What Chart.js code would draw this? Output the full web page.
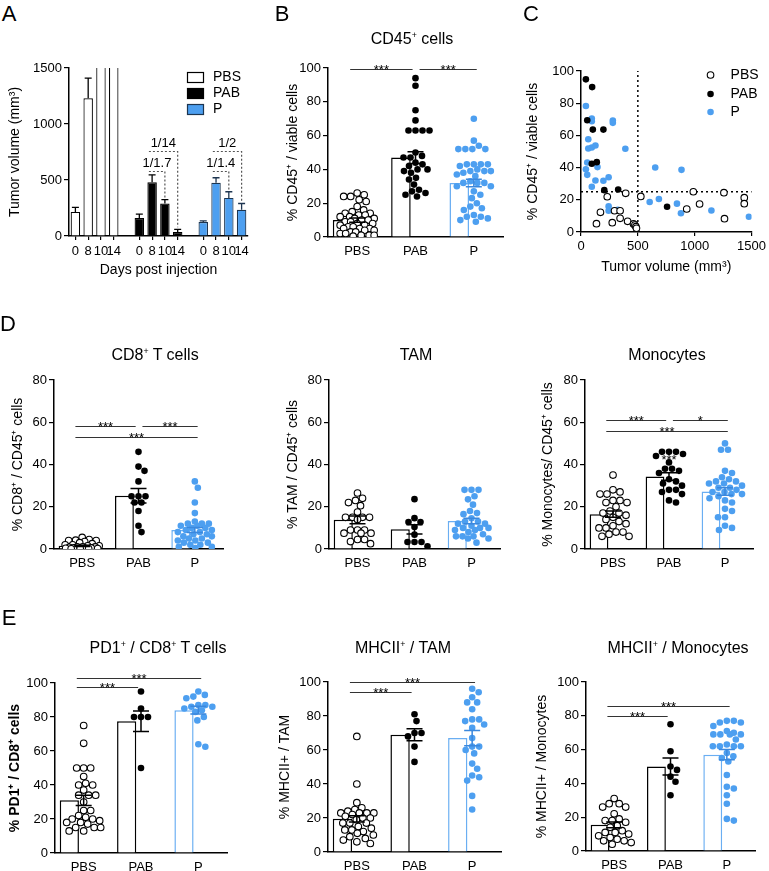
<!DOCTYPE html>
<html><head><meta charset="utf-8">
<script src="https://cdn.jsdelivr.net/npm/chart.js@4.4.0/dist/chart.umd.min.js"></script>
<style>
body{margin:0;background:#fff;}
#wrap{position:relative;width:769px;height:871px;overflow:hidden;background:#fff;font-family:'Liberation Sans',Arial,Helvetica,sans-serif;}
canvas{position:absolute;}
.txt{position:absolute;color:#000;white-space:nowrap;line-height:1;transform:translate(-50%,-50%);}
.txt sup{font-size:0.55em;vertical-align:0.7em;line-height:0;}
</style></head><body><div id="wrap"></div>
<script>
// ---------------- DATA ----------------
const groups = ['PBS', 'PAB', 'P'];

// Panel A: tumor volume (mean + SEM) per day
const aDays = ['0', '8', '10', '14'];
const aPbsMean = [215, 1230, 2100, 2400];
const aPbsSem  = [40, 180, 0, 0];
const aPabMean = [160, 480, 290, 35];
const aPabSem  = [35, 65, 35, 25];
const aPMean   = [125, 475, 340, 235];
const aPSem    = [10, 45, 55, 55];
const aFold = [
  {grp: 1, from: 1, to: 2, level: 580, label: '1/1.7'},
  {grp: 1, from: 1, to: 3, level: 760, label: '1/14'},
  {grp: 2, from: 1, to: 2, level: 580, label: '1/1.4'},
  {grp: 2, from: 1, to: 3, level: 760, label: '1/2'}
];

// Panel B: % CD45+ / viable cells
const bPbs = [26,25,24,24,22,21,18,16,15,14,14,13,13,12,12,11,11,10,10,9,9,8,8,7,7,6,6,5,5,5,4,4,3,3,2,2,1,1,1,0.5];
const bPab = [94,89.5,75,69,63,63,63,63,50,48,47,47,44,43,42,40,40,39,38,35,34,31,28,27,26,25,24];
const bP   = [70,57,54,52,52,52,52,43,43,43,43,42,40,39,39,39,38,37,36,33,32,32,32,30,30,27,25,23,20,18,17,16,13,12,12,11,10,9];
const bMean = [10, 47, 32];
const bSem  = [1.2, 3.5, 2.2];
const bSig  = [{a:0,b:1,y:99.5,t:'***'},{a:1,b:2,y:99.5,t:'***'}];

// Panel C: tumor volume vs % CD45+
const cPbsX = [231,393,526,988,1257,1436,1436,1043,930,1262,171,295,344,344,136,275,410,462,474,483,488];
const cPbsY = [21.9,24,22.1,25,24.4,21.3,17.6,17.4,14.3,8.3,12.2,13.2,13.2,8.5,5.2,5.8,6.6,5,4.3,3.3,2.3];
const cPabX = [43,98,55,104,197,95,139,205,327,757];
const cPabY = [94.8,90,69.4,63.6,63.6,42.4,43.4,26,26.4,15.7];
const cPX = [43,95,95,280,280,64,64,95,127,390,55,43,55,145,653,884,95,127,197,243,604,685,844,879,1147,1477,243,243,324];
const cPY = [78.3,70.5,68.8,69.2,67.8,57.6,51.9,52.5,53.7,51.7,43.2,39,35.5,40.3,40.1,38.6,28.1,32,31.8,34,18.6,20.5,17.6,11.6,13.4,9.5,15.9,13.2,13.8];
const cCutX = 500, cCutY = 25;

// Panel D1: CD8+ T cells
const d1Pbs = [5.5,4.5,4.2,4,4,3.5,3,2.5,2,2,1.5,1.5,1,1,1,0.8,0.5,0.5,0.3,0.3,0.2,0.2,0.1,0.1];
const d1Pab = [46,39,37,32,25,25,25,22,22,18,11,8];
const d1P   = [32,29,22,17,13,12,12,12,11,11,10,10,9,9,8,8,7,7,6,6,5,5,4,4,3,3,2,2,1,1,0.5];
const d1Mean = [1.5, 25.2, 9];
const d1Sem  = [0.3, 3.4, 1.2];
const d1Sig  = [{a:0,b:1,y:58.2,t:'***'},{a:1,b:2,y:58.2,t:'***'},{a:0,b:2,y:53,t:'***'}];

// Panel D2: TAM
const d2Pbs = [26.5,24,23,22,20.5,17.5,15,15,15,15,14,9,9,9,7.5,7.5,7.5,4.5,4.5,3.5,2.5];
const d2Pab = [23.6,14.6,12.8,12.8,10.4,6.8,3.3,3.3,3.3,1.3];
const d2P   = [28,28,28,25,23.5,21,18,17,16.5,14.5,13,13,12,12,11,10,10,10,9,9,8,7,6,6,6,5,5,3];
const d2Mean = [13.8, 9.3, 13.3];
const d2Sem  = [1.8, 2.2, 1.3];
const d2Sig  = [];

// Panel D3: Monocytes
const d3Pbs = [35,28,27,26,26,23,23,22,22,20,18,17,17,16,15,14,13,12,11,10,10,8,8,7,6,6];
const d3Pab = [46,46,46,45,44,41,38,38,37,36,33,32,31,30,28,28,27,26,23,22];
const d3P   = [50,47,47,37,36,34,33,32,32,31,31,30,29,29,28,27,27,26,26,25,24,23,22,19,18,15,15,11,10,9];
const d3Mean = [16.5, 34.3, 27.2];
const d3Sem  = [1.5, 1.8, 1.8];
const d3Sig  = [{a:0,b:1,y:61,t:'***'},{a:1,b:2,y:61,t:'*'},{a:0,b:2,y:55.8,t:'***'}];
const d3Extra = [{x:1, y:43.6, t:'***'}];

// Panel E1: PD1+ / CD8+
const e1Pbs = [75,64.5,50,50,50,45,41,40,40,37,34,34,34,30,25,25,22,21,20,20,19,18,18,17,15,15,15,13,13];
const e1Pab = [95,85,80,80,80,50];
const e1P   = [95,93,92,91,87,87,86,86,85,84,83,80,78,64,62.5];
const e1Mean = [31, 77.5, 84];
const e1Sem  = [3, 6, 2.3];
const e1Sig  = [{a:0,b:1,y:97.6,t:'***'},{a:0,b:2,y:103,t:'***'}];

// Panel E2: MHCII+ / TAM
const e2Pbs = [68,40,29,26,25,24,23,23,23,23,22,21,20,20,19,17,17,17,15,14,13,13,12,11,10,9,8,7,6,5];
const e2Pab = [81,77,70,70,68,62,53];
const e2P   = [96,94,91,88,88,84,78,78,77,75,73,67,62,62,60,58,52,49,45,44,42,33,25];
const e2Mean = [19.5, 69, 67];
const e2Sem  = [1.8, 3.5, 4.5];
const e2Sig  = [{a:0,b:1,y:94,t:'***'},{a:0,b:2,y:100,t:'***'}];

// Panel E3: MHCII+ / Monocytes
const e3Pbs = [31,28,28,26,26,22,19,18,18,17,15,14,12,11,11,10,9,8,7,6,6,5,4];
const e3Pab = [75,59,50,48,44,41,33];
const e3P   = [77,77,76,76,74,71,70,69,69,69,69,66,63,62,62,62,62,58,56,55,53,45,38,37,33,28,19,18];
const e3Mean = [15.5, 50, 57];
const e3Sem  = [1.7, 5, 3];
const e3Sig  = [{a:0,b:1,y:80,t:'***'},{a:0,b:2,y:86,t:'***'}];

// ---------------- STYLE / LAYOUT ----------------
const FONT = "'Liberation Sans', Arial, Helvetica, sans-serif";
Chart.defaults.font.family = FONT;
Chart.defaults.color = '#000';
Chart.defaults.animation = false;
const BLUE = '#4d9ff0', BLUE_EDGE = '#6aaef2', BLUE_ERR = '#3b88dd';
const DOT_FILL = ['#fff', '#000', BLUE];
const DOT_EDGE = ['#000', '#000', BLUE];
const wrap = document.getElementById('wrap');
const plain = v => String(v);

function mkCanvas(p) {
  const c = document.createElement('canvas');
  c.width = p.W; c.height = p.H;
  c.style.left = p.L + 'px'; c.style.top = p.T + 'px';
  wrap.appendChild(c);
  return c;
}
function addText(html, cx, cy, size, weight) {
  const d = document.createElement('div');
  d.className = 'txt';
  d.style.left = cx + 'px'; d.style.top = cy + 'px';
  d.style.fontSize = size + 'px';
  if (weight) d.style.fontWeight = weight;
  d.innerHTML = html;
  wrap.appendChild(d);
}
function pad(p) { return {left: 0, top: p.t - p.T, right: p.L + p.W - p.r, bottom: 0}; }
function yAxis(p, max, step, title, titleCx, bold) {
  return {
    type: 'linear', min: 0, max: max,
    afterFit: s => { s.width = p.l - p.L; },
    ticks: {stepSize: step, font: {size: 13}, color: '#000', padding: 2, callback: plain},
    grid: {drawOnChartArea: false, drawTicks: true, tickLength: 5, color: '#000', lineWidth: 1.2},
    border: {display: true, color: '#000', width: 1.5},
    title: {display: true, text: title, color: '#000',
      font: {size: 14, weight: bold ? 'bold' : 'normal'},
      padding: {top: titleCx - p.L - 8.4, bottom: 0}}
  };
}
// deterministic beeswarm placement of dots (pixels), limited to a half-width
function swarm(vals, pxY, pxCat, d, limit) {
  const idx = vals.map((v, i) => i).sort((a, b) => vals[b] - vals[a]);
  const cands = [0];
  for (let k = 1; k * 0.5 <= limit; k++) { cands.push(k * 0.5, -k * 0.5); }
  const placed = [];
  const out = new Array(vals.length).fill(0);
  for (const i of idx) {
    const yy = vals[i] * pxY;
    let chosen = null, best = -1, bestC = 0;
    for (const c of cands) {
      let md = Infinity;
      for (const q of placed) {
        const dx = q.x - c, dy = q.y - yy;
        md = Math.min(md, Math.sqrt(dx * dx + dy * dy));
      }
      if (md >= d) { chosen = c; break; }
      if (md > best + 0.01) { best = md; bestC = c; }
    }
    if (chosen === null) chosen = bestC;
    placed.push({x: chosen, y: yy});
    out[i] = chosen / pxCat;
  }
  return out;
}

function dotPanel(p, cfg) {
  const catW = (p.r - p.l) / 3;
  const pxY = (p.b - p.t) / cfg.max;
  const sets = [cfg.pbs, cfg.pab, cfg.p];
  const datasets = [{
    type: 'bar', xAxisID: 'x', yAxisID: 'y', order: 2,
    data: cfg.mean,
    backgroundColor: '#fff', borderColor: ['#000', '#000', BLUE_EDGE],
    borderWidth: 1.5, barPercentage: 0.67, categoryPercentage: 1
  }];
  sets.forEach((vals, gi) => {
    const off = swarm(vals, pxY, catW, 7, 17);
    datasets.push({
      type: 'scatter', xAxisID: 'xs', yAxisID: 'y', order: 1,
      data: vals.map((v, k) => ({x: gi + off[k], y: v})),
      pointRadius: 3.3, pointHoverRadius: 3.3,
      pointBackgroundColor: DOT_FILL[gi], pointBorderColor: DOT_EDGE[gi],
      pointBorderWidth: gi === 0 ? 1.1 : 0
    });
  });
  const annot = {
    id: 'annot',
    afterDatasetsDraw(chart) {
      const {ctx} = chart; const x = chart.scales.x, y = chart.scales.y;
      ctx.save();
      const errCol = ['#000', '#000', BLUE_ERR];
      cfg.mean.forEach((m, i) => {
        const cx = x.getPixelForValue(i);
        const y1 = y.getPixelForValue(m - cfg.sem[i]), y2 = y.getPixelForValue(m + cfg.sem[i]);
        ctx.strokeStyle = errCol[i]; ctx.lineWidth = 1.5;
        ctx.beginPath();
        ctx.moveTo(cx, y1); ctx.lineTo(cx, y2);
        ctx.moveTo(cx - 8, y1); ctx.lineTo(cx + 8, y1);
        ctx.moveTo(cx - 8, y2); ctx.lineTo(cx + 8, y2);
        ctx.stroke();
      });
      ctx.font = '13px ' + FONT; ctx.fillStyle = '#000'; ctx.textAlign = 'center'; ctx.textBaseline = 'alphabetic';
      cfg.sig.forEach(s => {
        const x1 = x.getPixelForValue(s.a === 0 ? s.a - 0.12 : s.a + 0.07);
        const x2 = x.getPixelForValue(s.b === 2 ? s.b + 0.05 : s.b - 0.05);
        const yy = Math.round(y.getPixelForValue(s.y)) + 0.5;
        ctx.strokeStyle = '#333'; ctx.lineWidth = 1;
        ctx.beginPath(); ctx.moveTo(x1, yy); ctx.lineTo(x2, yy); ctx.stroke();
        ctx.fillText(s.t, (x1 + x2) / 2, yy + 4);
      });
      (cfg.extra || []).forEach(e => {
        ctx.fillText(e.t, x.getPixelForValue(e.x), y.getPixelForValue(e.y) + 7);
      });
      ctx.restore();
    }
  };
  new Chart(mkCanvas(p), {
    type: 'bar',
    data: {labels: groups, datasets: datasets},
    options: {
      responsive: false, animation: false, events: [],
      layout: {padding: pad(p)},
      plugins: {legend: {display: false}, tooltip: {enabled: false}},
      scales: {
        x: {type: 'category', offset: true, position: 'bottom',
          afterFit: s => { s.height = p.T + p.H - p.b; },
          grid: {display: false, drawTicks: false},
          border: {display: true, color: '#000', width: 1.5},
          ticks: {font: {size: 13}, color: '#000', padding: 7, maxRotation: 0, autoSkip: false}},
        xs: {type: 'linear', display: false, offset: false, min: -0.5, max: 2.5, grid: {offset: false}},
        y: yAxis(p, cfg.max, cfg.step, cfg.ytitle, cfg.ytx, cfg.bold)
      }
    },
    plugins: [annot]
  });
  addText(cfg.title, cfg.tcx, cfg.tcy, 16);
}

// ---------------- PANEL A ----------------
(function () {
  const p = {L: 0, T: 40, W: 255, H: 250, l: 69, t: 68, r: 248, b: 236};
  const starts = [0, 5, 10];
  const labels = [];
  for (let g = 0; g < 3; g++) { labels.push(...aDays); if (g < 2) labels.push(''); }
  const means = [aPbsMean, aPabMean, aPMean], sems = [aPbsSem, aPabSem, aPSem];
  const fill = ['#fff', '#000', BLUE], edge = ['#000', '#000', '#1d3550'];
  const datasets = means.map((m, g) => {
    const arr = new Array(labels.length).fill(null);
    m.forEach((v, i) => { arr[starts[g] + i] = v; });
    return {label: groups[g], data: arr, backgroundColor: fill[g], borderColor: edge[g],
      borderWidth: 1.2, grouped: false, barPercentage: 0.74, categoryPercentage: 1};
  });
  const annot = {
    id: 'annotA',
    afterDatasetsDraw(chart) {
      const {ctx, chartArea} = chart; const x = chart.scales.x, y = chart.scales.y;
      ctx.save();
      ctx.beginPath(); ctx.rect(chartArea.left, chartArea.top - 1, chartArea.right - chartArea.left, chartArea.bottom - chartArea.top + 1); ctx.clip();
      for (let g = 0; g < 3; g++) {
        means[g].forEach((m, i) => {
          if (!sems[g][i]) return;
          const cx = x.getPixelForValue(starts[g] + i);
          const y1 = y.getPixelForValue(m), y2 = y.getPixelForValue(m + sems[g][i]);
          ctx.strokeStyle = edge[g]; ctx.lineWidth = 1.3;
          ctx.beginPath(); ctx.moveTo(cx, y1); ctx.lineTo(cx, y2);
          ctx.moveTo(cx - 3.5, y2); ctx.lineTo(cx + 3.5, y2); ctx.stroke();
        });
      }
      ctx.restore();
      ctx.save();
      ctx.setLineDash([2, 2]); ctx.strokeStyle = '#555'; ctx.lineWidth = 1.2;
      ctx.font = '13px ' + FONT; ctx.fillStyle = '#000'; ctx.textAlign = 'center';
      aFold.forEach(f => {
        const g = f.grp;
        const xs = x.getPixelForValue(starts[g] + f.from - 0.25);
        const xe = x.getPixelForValue(starts[g] + f.to);
        const yl = Math.round(y.getPixelForValue(f.level)) + 0.5;
        const yt = y.getPixelForValue(means[g][f.to] + sems[g][f.to]) - 2;
        ctx.beginPath(); ctx.moveTo(xs, yl); ctx.lineTo(xe, yl); ctx.lineTo(xe, yt); ctx.stroke();
        ctx.fillText(f.label, (xs + xe) / 2, yl - 5);
      });
      ctx.setLineDash([]);
      // legend
      ctx.textAlign = 'left'; ctx.textBaseline = 'middle'; ctx.font = '14px ' + FONT;
      groups.forEach((name, g) => {
        const cy = chartArea.top + 9 + g * 16;
        const bx = chartArea.right - 61;
        ctx.fillStyle = fill[g]; ctx.fillRect(bx, cy - 5, 16, 10);
        ctx.strokeStyle = edge[g]; ctx.lineWidth = 1.2; ctx.strokeRect(bx + 0.5, cy - 5 + 0.5, 16, 10);
        ctx.fillStyle = '#000'; ctx.fillText(name, chartArea.right - 35, cy);
      });
      ctx.restore();
    }
  };
  new Chart(mkCanvas(p), {
    type: 'bar',
    data: {labels: labels, datasets: datasets},
    options: {
      responsive: false, animation: false, events: [],
      layout: {padding: pad(p)},
      plugins: {legend: {display: false}, tooltip: {enabled: false}},
      scales: {
        x: {type: 'category', offset: true,
          afterFit: s => { s.height = p.T + p.H - p.b; },
          grid: {display: true, drawOnChartArea: false, offset: false, drawTicks: true, tickLength: 4,
            color: c => (labels[c.index] ? '#000' : 'rgba(0,0,0,0)'), lineWidth: 1.2},
          border: {display: true, color: '#000', width: 1.5},
          ticks: {font: {size: 13}, color: '#000', padding: 4, maxRotation: 0, autoSkip: false},
          title: {display: true, text: 'Days post injection', color: '#000', font: {size: 14},
            padding: {top: 0, bottom: (p.T + p.H) - 270 - 8.4}}},
        y: yAxis(p, 1500, 500, 'Tumor volume (mm³)', 15, false)
      }
    },
    plugins: [annot]
  });
})();

// ---------------- PANEL C ----------------
(function () {
  const p = {L: 512, T: 40, W: 257, H: 245, l: 581, t: 71, r: 754, b: 232};
  const mk = (xs, ys) => xs.map((v, i) => ({x: v, y: ys[i]}));
  const datasets = [
    {label: 'PBS', data: mk(cPbsX, cPbsY), pointRadius: 3.3, pointBackgroundColor: '#fff', pointBorderColor: '#000', pointBorderWidth: 1.1},
    {label: 'PAB', data: mk(cPabX, cPabY), pointRadius: 3.3, pointBackgroundColor: '#000', pointBorderColor: '#000', pointBorderWidth: 0},
    {label: 'P', data: mk(cPX, cPY), pointRadius: 3.3, pointBackgroundColor: BLUE, pointBorderColor: BLUE, pointBorderWidth: 0}
  ];
  const annot = {
    id: 'annotC',
    beforeDatasetsDraw(chart) {
      const {ctx} = chart; const x = chart.scales.x, y = chart.scales.y;
      ctx.save(); ctx.setLineDash([2, 3]); ctx.strokeStyle = '#000'; ctx.lineWidth = 1.5;
      const vx = x.getPixelForValue(cCutX), hy = y.getPixelForValue(cCutY);
      ctx.beginPath();
      ctx.moveTo(vx, y.getPixelForValue(0)); ctx.lineTo(vx, y.getPixelForValue(100));
      ctx.moveTo(x.getPixelForValue(0), hy); ctx.lineTo(x.getPixelForValue(1500), hy);
      ctx.stroke(); ctx.restore();
    },
    afterDraw(chart) {
      const {ctx, chartArea} = chart;
      ctx.save(); ctx.font = '14px ' + FONT; ctx.textBaseline = 'middle'; ctx.textAlign = 'left';
      const offs = [4, 23, 41];
      datasets.forEach((d, g) => {
        const cy = chartArea.top + offs[g], mx = chartArea.right - 41;
        ctx.beginPath(); ctx.arc(mx, cy, 3.3, 0, Math.PI * 2);
        ctx.fillStyle = d.pointBackgroundColor; ctx.fill();
        if (g === 0) { ctx.strokeStyle = '#000'; ctx.lineWidth = 1.1; ctx.stroke(); }
        ctx.fillStyle = '#000'; ctx.fillText(d.label, chartArea.right - 21, cy);
      });
      ctx.restore();
    }
  };
  new Chart(mkCanvas(p), {
    type: 'scatter',
    data: {datasets: datasets},
    options: {
      responsive: false, animation: false, events: [],
      layout: {padding: pad(p)},
      plugins: {legend: {display: false}, tooltip: {enabled: false}},
      scales: {
        x: {type: 'linear', min: 0, max: 1500,
          afterFit: s => { s.height = p.T + p.H - p.b; },
          ticks: {stepSize: 500, font: {size: 13}, color: '#000', padding: 3, callback: plain},
          grid: {drawOnChartArea: false, drawTicks: true, tickLength: 4, color: '#000', lineWidth: 1.2},
          border: {display: true, color: '#000', width: 1.5},
          title: {display: true, text: 'Tumor volume (mm³)', color: '#000', font: {size: 14},
            padding: {top: 0, bottom: (p.T + p.H) - 267 - 8.4}}},
        y: yAxis(p, 100, 20, '% CD45⁺ / viable cells', 533, false)
      }
    },
    plugins: [annot]
  });
})();

// ---------------- DOT PANELS ----------------
dotPanel({L: 255, T: 40, W: 255, H: 240, l: 328, t: 68, r: 503, b: 237},
  {pbs: bPbs, pab: bPab, p: bP, mean: bMean, sem: bSem, sig: bSig, max: 100, step: 20,
   ytitle: '% CD45⁺ / viable cells', ytx: 293, title: 'CD45<sup>+</sup> cells', tcx: 412, tcy: 39});
dotPanel({L: 0, T: 335, W: 240, H: 245, l: 54, t: 380, r: 223, b: 549},
  {pbs: d1Pbs, pab: d1Pab, p: d1P, mean: d1Mean, sem: d1Sem, sig: d1Sig, max: 80, step: 20,
   ytitle: '% CD8⁺ / CD45⁺ cells', ytx: 18, title: 'CD8<sup>+</sup> T cells', tcx: 155, tcy: 355});
dotPanel({L: 255, T: 335, W: 255, H: 245, l: 329, t: 380, r: 500, b: 549},
  {pbs: d2Pbs, pab: d2Pab, p: d2P, mean: d2Mean, sem: d2Sem, sig: d2Sig, max: 80, step: 20,
   ytitle: '% TAM / CD45⁺ cells', ytx: 293, title: 'TAM', tcx: 416, tcy: 355});
dotPanel({L: 512, T: 335, W: 257, H: 245, l: 585, t: 380, r: 753, b: 549},
  {pbs: d3Pbs, pab: d3Pab, p: d3P, mean: d3Mean, sem: d3Sem, sig: d3Sig, extra: d3Extra, max: 80, step: 20,
   ytitle: '% Monocytes/ CD45⁺ cells', ytx: 548, title: 'Monocytes', tcx: 667, tcy: 355});
dotPanel({L: 0, T: 640, W: 240, H: 231, l: 55, t: 683, r: 227, b: 853},
  {pbs: e1Pbs, pab: e1Pab, p: e1P, mean: e1Mean, sem: e1Sem, sig: e1Sig, max: 100, step: 20,
   ytitle: '% PD1⁺ / CD8⁺ cells', ytx: 15, bold: true, title: 'PD1<sup>+</sup> / CD8<sup>+</sup> T cells', tcx: 158, tcy: 648});
dotPanel({L: 255, T: 640, W: 255, H: 231, l: 328, t: 682, r: 501, b: 852},
  {pbs: e2Pbs, pab: e2Pab, p: e2P, mean: e2Mean, sem: e2Sem, sig: e2Sig, max: 100, step: 20,
   ytitle: '% MHCII+ / TAM', ytx: 285, title: 'MHCII<sup>+</sup> / TAM', tcx: 403, tcy: 648});
dotPanel({L: 512, T: 640, W: 257, H: 231, l: 586, t: 682, r: 755, b: 851},
  {pbs: e3Pbs, pab: e3Pab, p: e3P, mean: e3Mean, sem: e3Sem, sig: e3Sig, max: 100, step: 20,
   ytitle: '% MHCII+ / Monocytes', ytx: 542, title: 'MHCII<sup>+</sup> / Monocytes', tcx: 678, tcy: 648});

// ---------------- PANEL LETTERS ----------------
addText('A', 9, 14, 22);
addText('B', 282, 14, 22);
addText('C', 531, 14, 22);
addText('D', 8, 324, 22);
addText('E', 9, 618, 22);
</script>
</body></html>
